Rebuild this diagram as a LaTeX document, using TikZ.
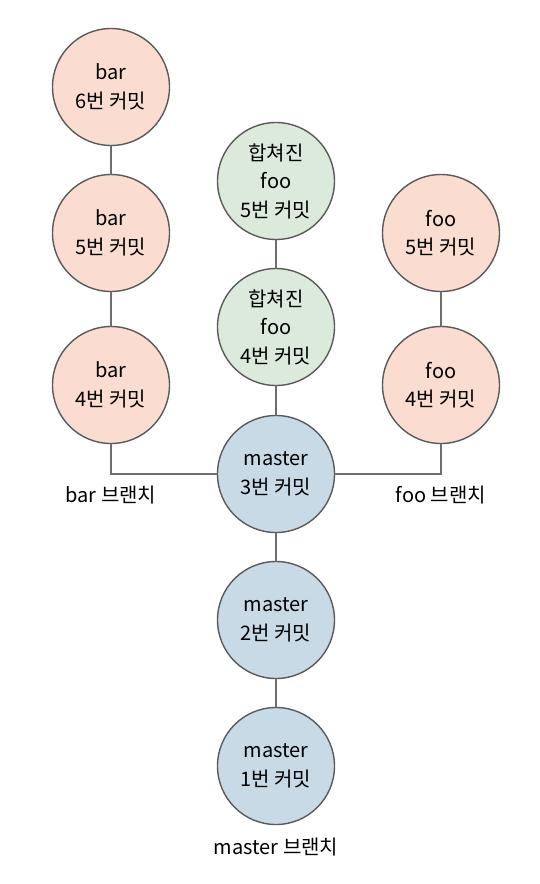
\documentclass[tikz,border=0pt]{standalone}
\usepackage{fontspec}
\setmainfont{Noto Sans CJK KR}
\usetikzlibrary{positioning}

\begin{document}
\begin{tikzpicture}[x=1pt, y=-1pt, line cap=round,
  commit/.style={circle, draw=edgeG, line width=1.4pt, minimum size=117pt,
    inner sep=0pt, align=center, font=\fontsize{20}{28.5}\selectfont},
  barC/.style={commit, fill=barP},
  fooC/.style={commit, fill=barP},
  mergedC/.style={commit, fill=mergeG},
  masterC/.style={commit, fill=masterB},
  branchLbl/.style={font=\fontsize{20}{24}\selectfont},
  link/.style={draw=linkG, line width=1.8pt}]
\definecolor{barP}{HTML}{FADCD0}
\definecolor{mergeG}{HTML}{DCEADB}
\definecolor{masterB}{HTML}{C9DAE7}
\definecolor{edgeG}{HTML}{5A5A5A}
\definecolor{linkG}{HTML}{6E6E6E}
% ---- canvas ----
\useasboundingbox[fill=white] (0,0) rectangle (539,884);
% ---- bar branch ----
\node[barC] (bar6) at (111,87)  {bar\\6번 커밋};
\node[barC] (bar5) at (111,233) {bar\\5번 커밋};
\node[barC] (bar4) at (111,385) {bar\\4번 커밋};
% ---- merged foo ----
\node[mergedC] (mrg5) at (276,181) {합쳐진\\foo\\5번 커밋};
\node[mergedC] (mrg4) at (276,327) {합쳐진\\foo\\4번 커밋};
% ---- foo branch ----
\node[fooC] (foo5) at (441,233) {foo\\5번 커밋};
\node[fooC] (foo4) at (441,385) {foo\\4번 커밋};
% ---- master branch ----
\node[masterC] (mst3) at (276,474) {master\\3번 커밋};
\node[masterC] (mst2) at (276,620) {master\\2번 커밋};
\node[masterC] (mst1) at (276,766) {master\\1번 커밋};
% ---- branch labels ----
\node[branchLbl] (barLbl) at (111,495) {bar 브랜치};
\node[branchLbl] (fooLbl) at (441,495) {foo 브랜치};
\node[branchLbl] (mstLbl) at (276,847) {master 브랜치};
% ---- links ----
\draw[link] (bar6) -- (bar5);
\draw[link] (bar5) -- (bar4);
\draw[link] (bar4) |- (mst3);
\draw[link] (foo5) -- (foo4);
\draw[link] (foo4) |- (mst3);
\draw[link] (mrg5) -- (mrg4);
\draw[link] (mrg4) -- (mst3);
\draw[link] (mst3) -- (mst2);
\draw[link] (mst2) -- (mst1);
\end{tikzpicture}
\end{document}
